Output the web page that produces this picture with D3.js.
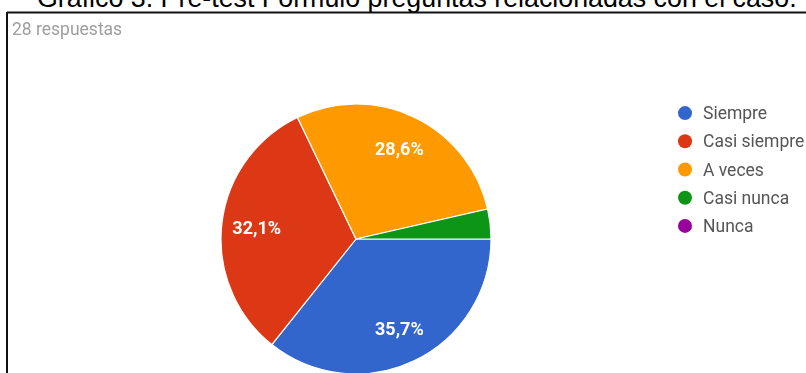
<!DOCTYPE html>
<html>
<head>
<meta charset="utf-8">
<script src="https://cdn.jsdelivr.net/npm/d3@7"></script>
<style>
  html, body { margin: 0; padding: 0; background: #fff; }
  svg { display: block; }
</style>
</head>
<body>
<svg id="chart" width="806" height="373"></svg>
<script>
// Responses per option (28 in total)
const categories = ["Siempre", "Casi siempre", "A veces", "Casi nunca", "Nunca"];
const counts = [10, 9, 8, 1, 0];
const colors = ["#3366cc", "#dc3912", "#ff9900", "#109618", "#990099"];
const titleText = "Gráfico 3. Pre-test Formulo preguntas relacionadas con el caso.";
const subtitleText = "28 respuestas";

const W = 806, H = 373;
const svg = d3.select("#chart");

// soft focus for the embedded form screenshot
const defs = svg.append("defs");
defs.append("filter").attr("id", "soft")
  .attr("x", "-5%").attr("y", "-5%").attr("width", "110%").attr("height", "110%")
  .append("feGaussianBlur").attr("stdDeviation", 0.7);

// caption above the frame
svg.append("text")
  .attr("x", 37).attr("y", 7)
  .attr("font-family", "Liberation Sans, Arial, sans-serif")
  .attr("font-size", 26.8)
  .attr("fill", "#000")
  .text(titleText);

// frame lines (top and left)
svg.append("line").attr("x1", 7).attr("x2", W).attr("y1", 12.5).attr("y2", 12.5)
  .attr("stroke", "#111").attr("stroke-width", 2);
svg.append("line").attr("x1", 7).attr("x2", 7).attr("y1", 12).attr("y2", H)
  .attr("stroke", "#111").attr("stroke-width", 2);

const inner = svg.append("g").attr("filter", "url(#soft)");

inner.append("text")
  .attr("x", 12).attr("y", 35)
  .attr("font-family", "Roboto, sans-serif")
  .attr("font-size", 17.5)
  .attr("fill", "#9e9e9e")
  .text(subtitleText);

// pie
const cx = 356, cy = 239, R = 135;
const total = d3.sum(counts);
const data = categories.map((c, i) => ({ name: c, value: counts[i], color: colors[i] }));

const pie = d3.pie().value(d => d.value).sort(null)
  .startAngle(Math.PI / 2).endAngle(Math.PI / 2 + 2 * Math.PI);
const arcs = pie(data);
const arc = d3.arc().innerRadius(0).outerRadius(R);
const labelArc = d3.arc().innerRadius(R * 0.74).outerRadius(R * 0.74);

const g = inner.append("g").attr("transform", `translate(${cx},${cy})`);
g.selectAll("path.slice")
  .data(arcs.filter(d => d.value > 0))
  .join("path")
  .attr("class", "slice")
  .attr("d", arc)
  .attr("fill", d => d.data.color)
  .attr("stroke", "#fff")
  .attr("stroke-width", 1.2);

const fmt = v => (v / total * 100).toFixed(1).replace(".", ",") + "%";
g.selectAll("text.lbl")
  .data(arcs.filter(d => d.value / total >= 0.05))
  .join("text")
  .attr("class", "lbl")
  .attr("transform", d => `translate(${labelArc.centroid(d)})`)
  .attr("text-anchor", "middle")
  .attr("dy", "0.36em")
  .attr("font-family", "Roboto, sans-serif")
  .attr("font-size", 18)
  .attr("font-weight", "bold")
  .attr("fill", "#fff")
  .text(d => fmt(d.value));

// legend
const ly = d3.scaleBand().domain(categories).range([99, 240]);
const legend = inner.append("g");
const items = legend.selectAll("g").data(data).join("g")
  .attr("transform", d => `translate(685,${ly(d.name) + ly.bandwidth() / 2})`);
items.append("circle").attr("r", 7).attr("fill", d => d.color);
items.append("text")
  .attr("x", 18).attr("dy", "0.35em")
  .attr("font-family", "Roboto, sans-serif")
  .attr("font-size", 17.5)
  .attr("fill", "#555")
  .text(d => d.name);
</script>
</body>
</html>
